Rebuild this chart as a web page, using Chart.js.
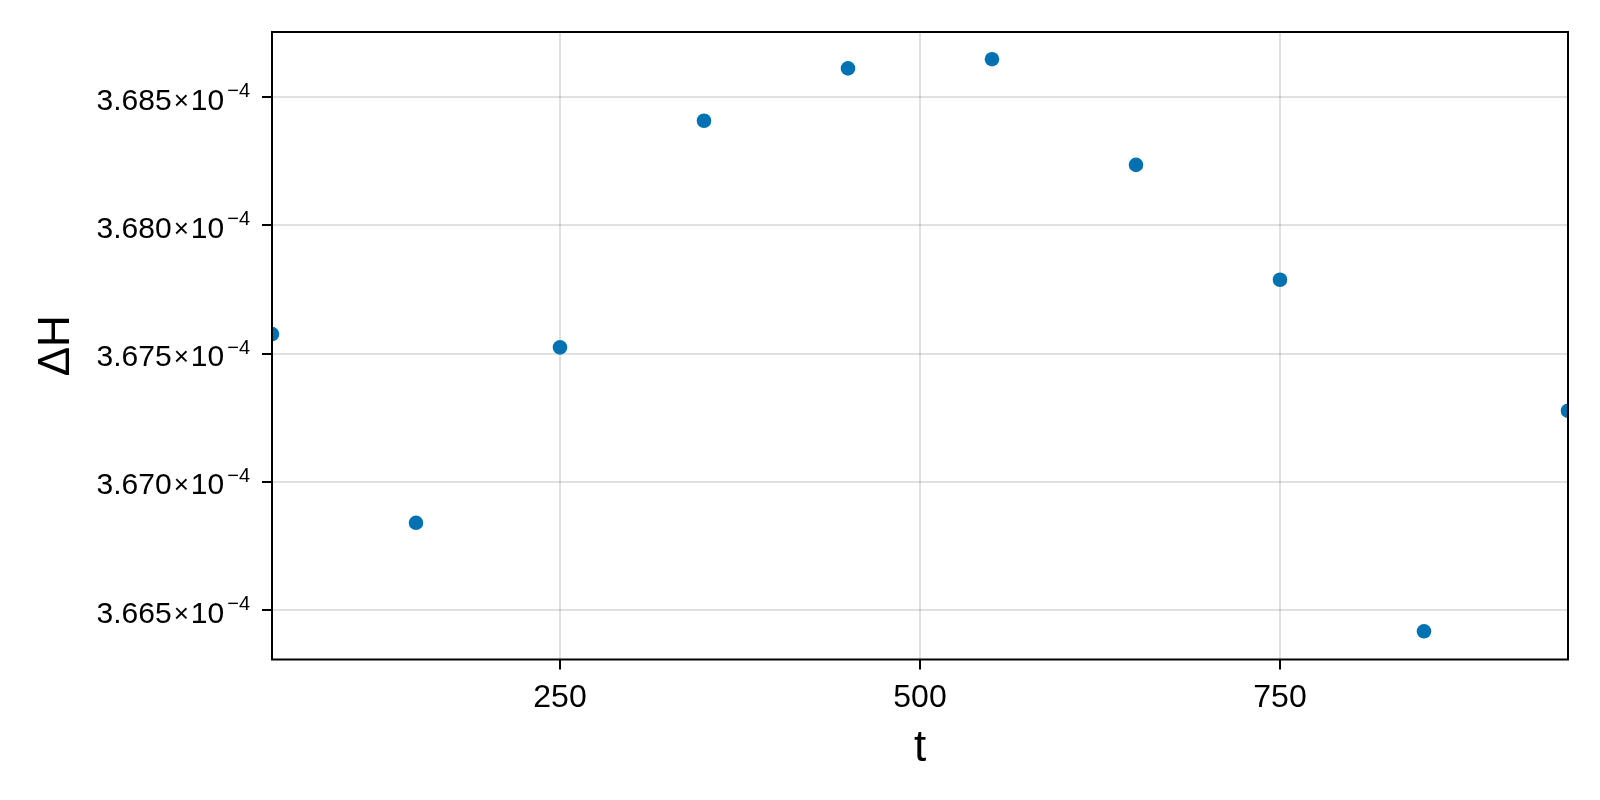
<!DOCTYPE html>
<html>
<head>
<meta charset="utf-8">
<script src="https://cdn.jsdelivr.net/npm/chart.js@4.4.1/dist/chart.umd.min.js"></script>
<style>
	html, body { margin: 0; padding: 0; background: #fff; }
	#chart { display: block; }
</style>
</head>
<body>
<canvas id="chart" width="1600" height="800"></canvas>
<script>
// data
const times = [50, 150, 250, 350, 450, 550, 650, 750, 850, 950];
const deltaH = [
	3.67576e-4, 3.66840e-4, 3.67524e-4, 3.68408e-4, 3.68612e-4,
	3.68648e-4, 3.68236e-4, 3.67788e-4, 3.66417e-4, 3.67277e-4,
];
const xTicks = [250, 500, 750];
const yTicks = [3.665e-4, 3.670e-4, 3.675e-4, 3.680e-4, 3.685e-4];
const yExponent = -4;

const font = "'Liberation Sans', Arial, sans-serif";
const gridColor = "rgba(0,0,0,0.12)";

// y tick labels as mantissa x 10 with a raised exponent
const yTickLabels = {
	id: "yTickLabels",
	afterDraw(chart) {
		const ctx = chart.ctx;
		const scale = chart.scales.y;
		const right = chart.chartArea.left - 22;
		const sup = "\u2212" + Math.abs(yExponent);

		ctx.save();
		ctx.fillStyle = "#000";
		ctx.textAlign = "right";
		ctx.textBaseline = "alphabetic";
		scale.ticks.forEach((tick) => {
			const y = scale.getPixelForValue(tick.value);
			const base = y + 12.7;
			const mantissa = (tick.value / Math.pow(10, yExponent)).toFixed(3);
			let x = right;

			ctx.font = "20px " + font;
			ctx.fillText(sup, x, y);
			x -= ctx.measureText(sup).width + 3;

			ctx.font = "30px " + font;
			ctx.fillText("10", x, base);
			x -= ctx.measureText("10").width + 2;

			ctx.font = "26px " + font;
			ctx.fillText("\u00d7", x, base - 1);
			x -= ctx.measureText("\u00d7").width + 2;

			ctx.font = "30px " + font;
			ctx.fillText(mantissa, x, base);
		});
		ctx.restore();
	},
};

// full frame round the plot area
const frame = {
	id: "frame",
	afterDraw(chart) {
		const { left, top, right, bottom } = chart.chartArea;
		const ctx = chart.ctx;
		ctx.save();
		ctx.strokeStyle = "#000";
		ctx.lineWidth = 2;
		ctx.strokeRect(left, top, right - left, bottom - top);
		ctx.restore();
	},
};

const config = {
	type: "scatter",
	data: {
		datasets: [
			{
				data: times.map((t, i) => ({ x: t, y: deltaH[i] })),
				backgroundColor: "#0072b2",
				borderWidth: 0,
				pointRadius: 7.3,
				clip: 0,
			},
		],
	},
	options: {
		responsive: false,
		animation: false,
		devicePixelRatio: 1,
		events: [],
		layout: { padding: { left: 0, top: 32, right: 32, bottom: 0 } },
		plugins: { legend: { display: false }, tooltip: { enabled: false } },
		scales: {
			x: {
				type: "linear",
				min: 50,
				max: 950,
				afterBuildTicks: (scale) => {
					scale.ticks = xTicks.map((v) => ({ value: v }));
				},
				afterFit: (scale) => {
					scale.height = 140.5;
				},
				border: { display: false },
				grid: {
					color: gridColor,
					lineWidth: 2,
					tickLength: 10,
					tickColor: "#000",
					tickWidth: 2,
				},
				ticks: {
					color: "#000",
					padding: 9,
					font: { family: font, size: 32, lineHeight: 1.2 },
				},
				title: {
					display: true,
					text: "t",
					color: "#000",
					padding: { top: 0, bottom: 25 },
					font: { family: font, size: 44, lineHeight: 1.2 },
				},
			},
			y: {
				type: "linear",
				min: 3.66307e-4,
				max: 3.68754e-4,
				afterBuildTicks: (scale) => {
					scale.ticks = yTicks.map((v) => ({ value: v }));
				},
				afterFit: (scale) => {
					scale.width = 272;
				},
				border: { display: false },
				grid: {
					color: gridColor,
					lineWidth: 2,
					tickLength: 10,
					tickColor: "#000",
					tickWidth: 2,
				},
				ticks: { display: false },
				title: {
					display: true,
					text: "\u0394H",
					color: "#000",
					padding: { top: 30, bottom: 0 },
					font: { family: font, size: 44, lineHeight: 1.2 },
				},
			},
		},
	},
	plugins: [yTickLabels, frame],
};

new Chart(document.getElementById("chart"), config);
</script>
</body>
</html>
